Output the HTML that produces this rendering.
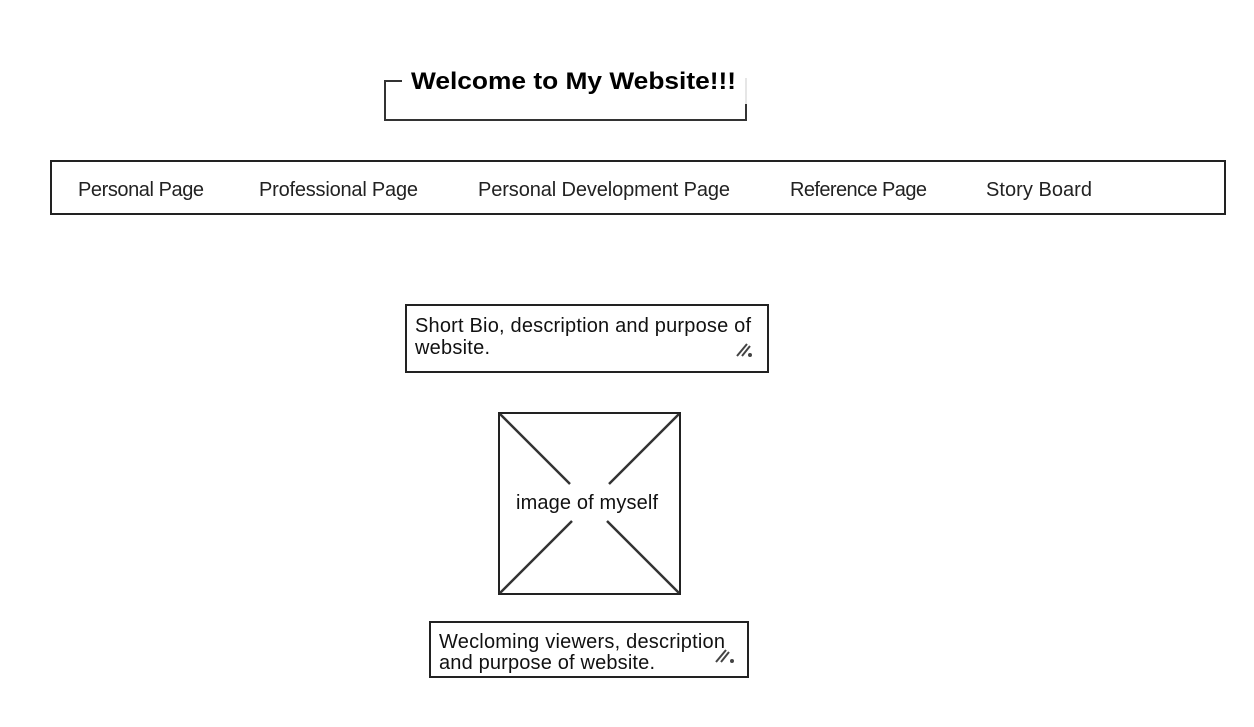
<!DOCTYPE html>
<html><head><meta charset="utf-8"><style>body{margin:0;background:#fff}svg{display:block}</style></head>
<body>
<svg width="1254" height="727" xmlns="http://www.w3.org/2000/svg" font-family="'Liberation Sans', sans-serif">
<rect width="1254" height="727" fill="#fff"/>
<g stroke="#333" stroke-width="2" fill="none">
<path d="M385 81 H402 M385 80 V120 H746 V104"/>
</g>
<line x1="746" y1="78" x2="746" y2="104" stroke="#ccc" stroke-width="1"/>
<text x="411" y="89" font-size="24" font-weight="bold" textLength="325" lengthAdjust="spacingAndGlyphs" fill="#000">Welcome to My Website!!!</text>
<rect x="51" y="161" width="1174" height="53" fill="none" stroke="#222" stroke-width="2"/>
<g font-size="20" fill="#222" lengthAdjust="spacingAndGlyphs">
<text x="78" y="196" textLength="126">Personal Page</text>
<text x="259" y="196" textLength="159">Professional Page</text>
<text x="478" y="196" textLength="252">Personal Development Page</text>
<text x="790" y="196" textLength="137">Reference Page</text>
<text x="986" y="196" textLength="106">Story Board</text>
</g>
<rect x="406" y="305" width="362" height="67" fill="none" stroke="#222" stroke-width="2"/>
<g font-size="20" fill="#111" lengthAdjust="spacingAndGlyphs">
<text x="415" y="332" textLength="336">Short Bio, description and purpose of</text>
<text x="415" y="354" textLength="75">website.</text>
<text x="516" y="509" textLength="142">image of myself</text>
<text x="439" y="648" textLength="286">Wecloming viewers, description</text>
<text x="439" y="669" textLength="216">and purpose of website.</text>
</g>
<g stroke="#444" stroke-width="2">
<path d="M737 356 L747 344 M742 356 L750 346"/><circle cx="750" cy="355" r="1" fill="#444"/>
<path d="M716 662 L726 650 M721 662 L729 652"/><circle cx="732" cy="661" r="1" fill="#444"/>
</g>
<rect x="499" y="413" width="181" height="181" fill="none" stroke="#222" stroke-width="2"/>
<g stroke="#333" stroke-width="2.5">
<line x1="500" y1="414" x2="570" y2="484"/><line x1="679" y1="414" x2="609" y2="484"/>
<line x1="500" y1="593" x2="572" y2="521"/><line x1="679" y1="593" x2="607" y2="521"/>
</g>
<rect x="430" y="622" width="318" height="55" fill="none" stroke="#222" stroke-width="2"/>
</svg>
</body></html>
